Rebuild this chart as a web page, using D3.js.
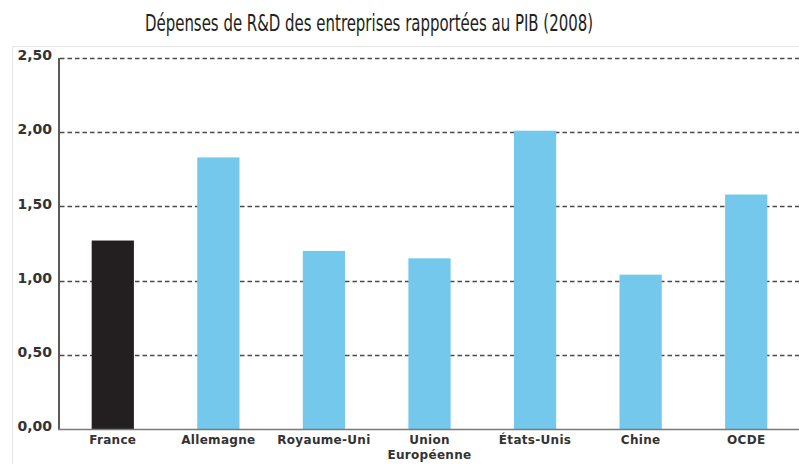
<!DOCTYPE html>
<html>
<head>
<meta charset="utf-8">
<script src="https://cdn.jsdelivr.net/npm/d3@7"></script>
<style>
  html, body { margin: 0; padding: 0; background: #fff; }
  svg { display: block; }
</style>
</head>
<body>
<div id="chart"></div>
<script>
// values
const categories = ["France", "Allemagne", "Royaume-Uni", "Union\nEuropéenne", "États-Unis", "Chine", "OCDE"];
const values = [1.27, 1.83, 1.20, 1.15, 2.01, 1.04, 1.58];
const tickValues = [0, 0.5, 1, 1.5, 2, 2.5];
const highlight = "France";

const width = 799, height = 464;
const margin = { top: 58, right: 0, bottom: 35, left: 59 };

const svg = d3.select("#chart").append("svg")
    .attr("width", width)
    .attr("height", height);

// faint frame round the plot
svg.append("path")
    .attr("d", `M12.5,${height} V46.5 H${width}`)
    .attr("fill", "none")
    .attr("stroke", "#e6e6e6")
    .attr("stroke-width", 1);

// title
svg.append("text")
    .attr("x", 369)
    .attr("y", 31)
    .attr("text-anchor", "middle")
    .attr("textLength", 448)
    .attr("lengthAdjust", "spacingAndGlyphs")
    .style("font-family", "'Liberation Sans Narrow', 'DejaVu Sans Condensed', 'Roboto', sans-serif")
    .style("font-size", "23px")
    .style("fill", "#231f20")
    .text("Dépenses de R&D des entreprises rapportées au PIB (2008)");

const x = d3.scaleBand()
    .domain(categories)
    .range([margin.left + 1, width])
    .paddingInner(0.6)
    .paddingOuter(0.3);

const y = d3.scaleLinear()
    .domain([0, 2.5])
    .range([height - margin.bottom, margin.top]);

const fmt = d => d3.format(".2f")(d).replace(".", ",");

// dashed gridlines
svg.append("g")
    .selectAll("line")
    .data(tickValues.filter(d => d > 0))
    .enter()
    .append("line")
    .attr("x1", margin.left + 1)
    .attr("x2", width)
    .attr("y1", d => Math.round(y(d)) + 0.5)
    .attr("y2", d => Math.round(y(d)) + 0.5)
    .attr("stroke", "#4a4a4a")
    .attr("stroke-width", 1.4)
    .attr("stroke-dasharray", "4.5,3");

// y tick labels
svg.append("g")
    .selectAll("text")
    .data(tickValues)
    .enter()
    .append("text")
    .attr("x", 52)
    .attr("y", d => y(d))
    .attr("dy", "0.15em")
    .attr("text-anchor", "end")
    .style("font-family", "'DejaVu Sans', sans-serif")
    .style("font-weight", "bold")
    .style("font-size", "14px")
    .style("fill", "#333")
    .text(fmt);

// bars
svg.append("g")
    .selectAll("rect")
    .data(categories.map((c, i) => ({ cat: c, value: values[i] })))
    .enter()
    .append("rect")
    .attr("x", d => x(d.cat))
    .attr("width", x.bandwidth())
    .attr("y", d => y(d.value))
    .attr("height", d => y(0) - y(d.value))
    .attr("fill", d => d.cat === highlight ? "#231f20" : "#74c8ec");

// axes lines
svg.append("line")
    .attr("x1", margin.left).attr("x2", margin.left)
    .attr("y1", y(2.5)).attr("y2", y(0))
    .attr("stroke", "#5a5a5a")
    .attr("stroke-width", 2);

svg.append("line")
    .attr("x1", margin.left - 1).attr("x2", width)
    .attr("y1", y(0) + 0.5).attr("y2", y(0) + 0.5)
    .attr("stroke", "#7a7a7a")
    .attr("stroke-width", 1.5);

// category labels
const labels = svg.append("g")
    .selectAll("text")
    .data(categories)
    .enter()
    .append("text")
    .attr("text-anchor", "middle")
    .attr("transform", d => `translate(${x(d) + x.bandwidth() / 2},444)`)
    .style("font-family", "'DejaVu Sans', sans-serif")
    .style("font-weight", "bold")
    .style("font-size", "12px")
    .style("letter-spacing", "0.3px")
    .style("fill", "#333");

labels.selectAll("tspan")
    .data(d => d.split("\n"))
    .enter()
    .append("tspan")
    .attr("x", 0)
    .attr("dy", (d, i) => i === 0 ? 0 : 14.5)
    .text(d => d);
</script>
</body>
</html>
